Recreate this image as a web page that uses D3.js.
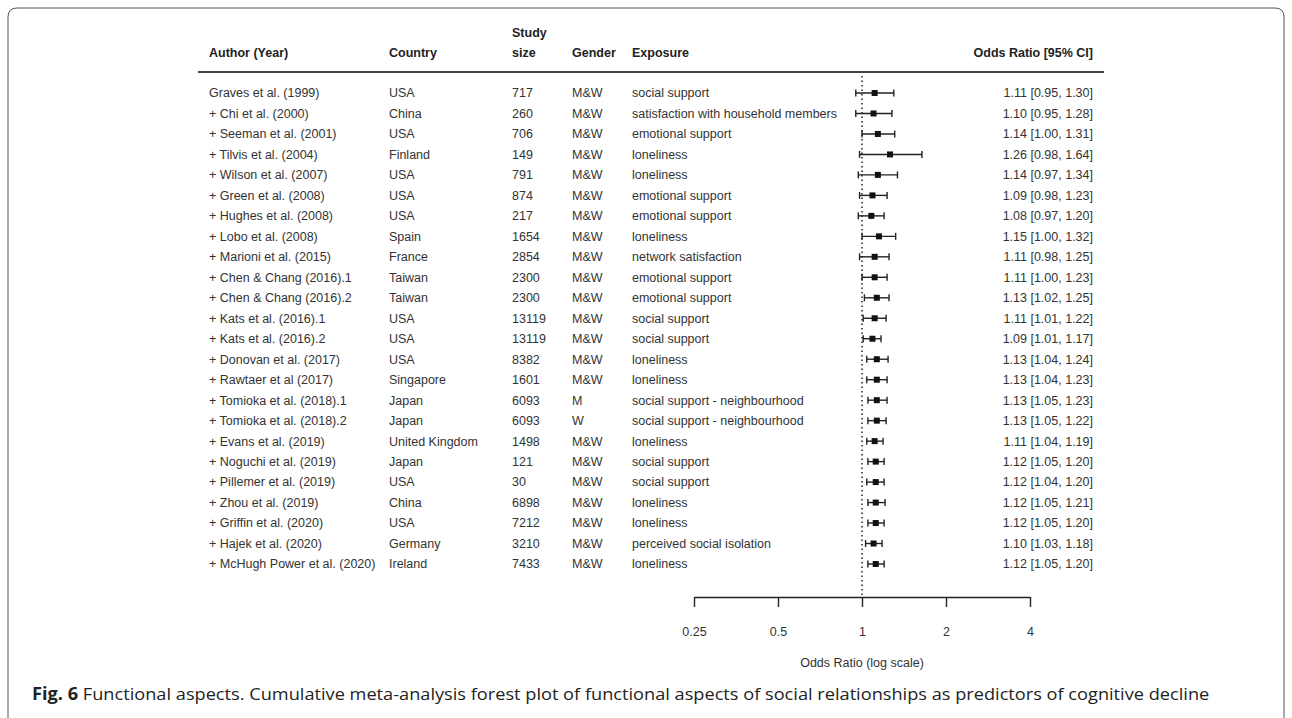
<!DOCTYPE html>
<html>
<head>
<meta charset="utf-8">
<title>Forest plot - functional aspects</title>
<script src="https://d3js.org/d3.v7.min.js"></script>
<style>
  body { margin: 0; background: #fff; }
  svg { display: block; }
  .row text, .hdr text { font-family: "Liberation Sans", Arial, sans-serif; font-size: 12.5px; }
</style>
</head>
<body>
<svg id="chart"></svg>
<script>
// study rows, in plot order
var authors = ["Graves et al. (1999)", "+ Chi et al. (2000)", "+ Seeman et al. (2001)", "+ Tilvis et al. (2004)",
  "+ Wilson et al. (2007)", "+ Green et al. (2008)", "+ Hughes et al. (2008)", "+ Lobo et al. (2008)",
  "+ Marioni et al. (2015)", "+ Chen & Chang (2016).1", "+ Chen & Chang (2016).2", "+ Kats et al. (2016).1",
  "+ Kats et al. (2016).2", "+ Donovan et al. (2017)", "+ Rawtaer et al (2017)", "+ Tomioka et al. (2018).1",
  "+ Tomioka et al. (2018).2", "+ Evans et al. (2019)", "+ Noguchi et al. (2019)", "+ Pillemer et al. (2019)",
  "+ Zhou et al. (2019)", "+ Griffin et al. (2020)", "+ Hajek et al. (2020)", "+ McHugh Power et al. (2020)"];
var countries = ["USA", "China", "USA", "Finland", "USA", "USA", "USA", "Spain", "France", "Taiwan", "Taiwan", "USA",
  "USA", "USA", "Singapore", "Japan", "Japan", "United Kingdom", "Japan", "USA", "China", "USA", "Germany", "Ireland"];
var sizes = [717, 260, 706, 149, 791, 874, 217, 1654, 2854, 2300, 2300, 13119,
  13119, 8382, 1601, 6093, 6093, 1498, 121, 30, 6898, 7212, 3210, 7433];
var genders = ["M&W", "M&W", "M&W", "M&W", "M&W", "M&W", "M&W", "M&W", "M&W", "M&W", "M&W", "M&W",
  "M&W", "M&W", "M&W", "M", "W", "M&W", "M&W", "M&W", "M&W", "M&W", "M&W", "M&W"];
var exposures = ["social support", "satisfaction with household members", "emotional support", "loneliness",
  "loneliness", "emotional support", "emotional support", "loneliness", "network satisfaction",
  "emotional support", "emotional support", "social support", "social support", "loneliness", "loneliness",
  "social support - neighbourhood", "social support - neighbourhood", "loneliness", "social support",
  "social support", "loneliness", "loneliness", "perceived social isolation", "loneliness"];
var or = [1.11, 1.10, 1.14, 1.26, 1.14, 1.09, 1.08, 1.15, 1.11, 1.11, 1.13, 1.11,
  1.09, 1.13, 1.13, 1.13, 1.13, 1.11, 1.12, 1.12, 1.12, 1.12, 1.10, 1.12];
var lower = [0.95, 0.95, 1.00, 0.98, 0.97, 0.98, 0.97, 1.00, 0.98, 1.00, 1.02, 1.01,
  1.01, 1.04, 1.04, 1.05, 1.05, 1.04, 1.05, 1.04, 1.05, 1.05, 1.03, 1.05];
var upper = [1.30, 1.28, 1.31, 1.64, 1.34, 1.23, 1.20, 1.32, 1.25, 1.23, 1.25, 1.22,
  1.17, 1.24, 1.23, 1.23, 1.22, 1.19, 1.20, 1.20, 1.21, 1.20, 1.18, 1.20];
var ticks = [0.25, 0.5, 1, 2, 4];
var tickLabels = ["0.25", "0.5", "1", "2", "4"];

var width = 1292, height = 718;
var svg = d3.select("#chart").attr("width", width).attr("height", height);

var rows = authors.map(function (a, i) {
  return { author: a, country: countries[i], size: sizes[i], gender: genders[i],
           exposure: exposures[i], or: or[i], lo: lower[i], hi: upper[i] };
});

var x = d3.scaleLog().base(2).domain([0.25, 4]).range([694, 1030]);
var y = d3.scalePoint().domain(d3.range(rows.length)).range([93, 564]);
var fmt = d3.format(".2f");

// frame round the figure (open at the bottom)
svg.append("path")
  .attr("d", "M8,718 L8,17 Q8,8 17,8 L1275,8 Q1284,8 1284,17 L1284,718")
  .attr("fill", "none").attr("stroke", "#555").attr("stroke-width", 1);

var cols = [
  { key: "author", x: 209, title: "Author (Year)" },
  { key: "country", x: 389, title: "Country" },
  { key: "size", x: 512, title: "size" },
  { key: "gender", x: 572, title: "Gender" },
  { key: "exposure", x: 632, title: "Exposure" }
];

var hdr = svg.append("g").attr("class", "hdr").attr("fill", "#222").attr("font-weight", "bold");
cols.forEach(function (c) {
  hdr.append("text").attr("x", c.x).attr("y", 57).text(c.title);
});
hdr.append("text").attr("x", 512).attr("y", 37).text("Study");
hdr.append("text").attr("x", 1093).attr("y", 57).attr("text-anchor", "end").text("Odds Ratio [95% CI]");

svg.append("line").attr("x1", 198).attr("x2", 1104).attr("y1", 72).attr("y2", 72)
  .attr("stroke", "#444").attr("stroke-width", 2);

// reference line at OR = 1
svg.append("line").attr("x1", x(1)).attr("x2", x(1)).attr("y1", 76).attr("y2", 597)
  .attr("stroke", "#222").attr("stroke-width", 1.5).attr("stroke-dasharray", "1.5,3");

var g = svg.selectAll("g.row").data(rows).enter().append("g")
  .attr("class", "row")
  .attr("transform", function (d, i) { return "translate(0," + y(i) + ")"; });

cols.forEach(function (c) {
  g.append("text").attr("x", c.x).attr("dy", "0.35em").attr("fill", "#333")
    .text(function (d) { return d[c.key]; });
});
g.append("text").attr("x", 1093).attr("dy", "0.35em").attr("text-anchor", "end").attr("fill", "#333")
  .text(function (d) { return fmt(d.or) + " [" + fmt(d.lo) + ", " + fmt(d.hi) + "]"; });

g.append("line").attr("x1", function (d) { return x(d.lo); }).attr("x2", function (d) { return x(d.hi); })
  .attr("stroke", "#222").attr("stroke-width", 1.4);
g.append("line").attr("x1", function (d) { return x(d.lo); }).attr("x2", function (d) { return x(d.lo); })
  .attr("y1", -3.5).attr("y2", 3.5).attr("stroke", "#222").attr("stroke-width", 1.4);
g.append("line").attr("x1", function (d) { return x(d.hi); }).attr("x2", function (d) { return x(d.hi); })
  .attr("y1", -3.5).attr("y2", 3.5).attr("stroke", "#222").attr("stroke-width", 1.4);
g.append("rect").attr("x", function (d) { return x(d.or) - 3; }).attr("y", -3)
  .attr("width", 6).attr("height", 6).attr("fill", "#111");

// log axis
var axis = d3.axisBottom(x).tickValues(ticks)
  .tickFormat(function (d, i) { return tickLabels[i]; })
  .tickSize(10).tickSizeOuter(0).tickPadding(20);
var ag = svg.append("g").attr("transform", "translate(0,597)").call(axis);
ag.select(".domain").attr("stroke", "#222").attr("stroke-width", 1.4);
ag.selectAll(".tick line").attr("stroke", "#222").attr("stroke-width", 1.4);
ag.selectAll(".tick text").attr("fill", "#333")
  .attr("font-family", "Liberation Sans, Arial, sans-serif").attr("font-size", 12.5);

svg.append("text").attr("x", x(1)).attr("y", 667).attr("text-anchor", "middle")
  .attr("font-family", "Liberation Sans, Arial, sans-serif").attr("font-size", 12.5).attr("fill", "#333")
  .text("Odds Ratio (log scale)");

// caption, condensed to the original width
var cap = svg.append("text").attr("y", 700)
  .attr("font-family", "Open Sans, sans-serif").attr("font-size", 17).attr("fill", "#222");
cap.append("tspan").attr("font-weight", "bold").text("Fig. 6");
cap.append("tspan").text(" Functional aspects. Cumulative meta-analysis forest plot of functional aspects of social relationships as predictors of cognitive decline");
var w = cap.node().getComputedTextLength();
cap.attr("transform", "translate(32,0) scale(" + (1178 / w) + ",1)");
</script>
</body>
</html>
